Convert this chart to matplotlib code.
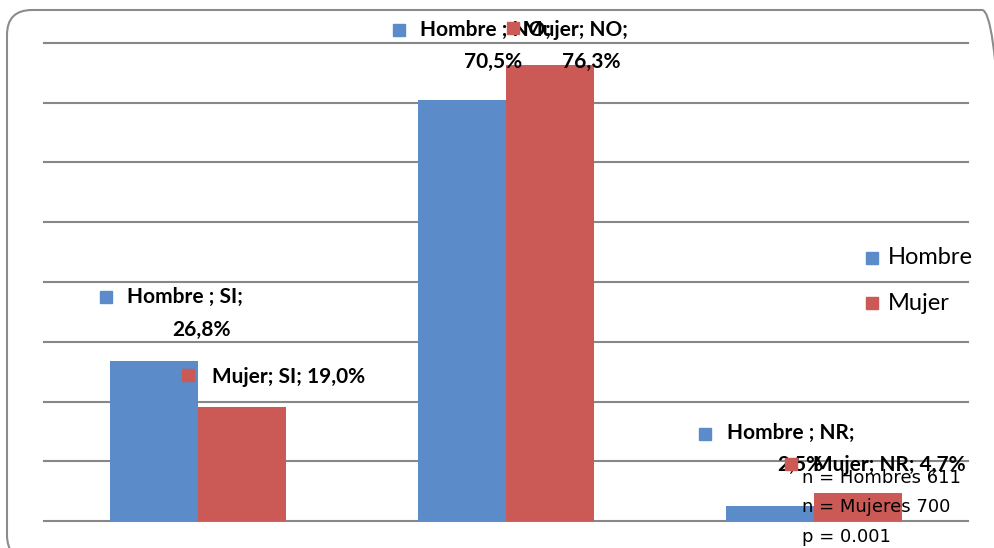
import matplotlib.pyplot as plt
import matplotlib.transforms as mtransforms
from matplotlib.patches import FancyBboxPatch, Rectangle

# datos
categorias = ['SI', 'NO', 'NR']
hombre = [26.8, 70.5, 2.5]
mujer = [19.0, 76.3, 4.7]
valores_h = ['26,8%', '70,5%', '2,5%']
valores_m = ['19,0%', '76,3%', '4,7%']
notas = ['n = Hombres 611', 'n = Mujeres 700', 'p = 0.001']

azul = '#5B8BC8'
rojo = '#CB5A56'
gris = '#878787'

fig = plt.figure(figsize=(9.94, 5.48), dpi=100)
ax = fig.add_axes([44/994, 27/548, 924/994, 478/548])

x = list(range(len(categorias)))
w = 0.286
ax.bar([i - w/2 for i in x], hombre, w, color=azul, zorder=2)
ax.bar([i + w/2 for i in x], mujer, w, color=rojo, zorder=2)
ax.set_xlim(-0.5, 2.5)
ax.set_ylim(0, 80)
for v in range(0, 90, 10):
    ax.axhline(v, color=gris, lw=1.5, zorder=1, clip_on=False)
for s in ax.spines.values():
    s.set_visible(False)
ax.set_xticks([])
ax.set_yticks([])


def etiqueta(xc, val, color, sq, t1, txt1, t2=None, txt2=None):
    # cuadrito de color + texto, desplazados en pixeles desde la punta de la barra
    tr = mtransforms.offset_copy(ax.transData, fig, x=sq[0], y=sq[1], units='dots')
    ax.plot([xc], [val], marker='s', ms=8.5, color=color, transform=tr,
            clip_on=False, zorder=5)
    ax.annotate(txt1, (xc, val), xytext=t1, textcoords='offset pixels',
                ha='left', va='center', fontsize=15, fontweight='bold',
                family='Lato', zorder=5, annotation_clip=False)
    if txt2:
        ax.annotate(txt2, (xc, val), xytext=t2, textcoords='offset pixels',
                    ha='center', va='center', fontsize=15, fontweight='bold',
                    family='Lato', zorder=5, annotation_clip=False)


xh = [i - w/2 for i in x]
xm = [i + w/2 for i in x]

etiqueta(xh[0], hombre[0], azul, (-48, 64), (-27, 64), 'Hombre ; ' + categorias[0] + ';', (48, 31), valores_h[0])
etiqueta(xh[1], hombre[1], azul, (-63, 70), (-42, 70), 'Hombre ; ' + categorias[1] + ';', (31, 38), valores_h[1])
etiqueta(xh[2], hombre[2], azul, (-65, 72), (-43, 73), 'Hombre ; ' + categorias[2] + ';', (30, 41), valores_h[2])
etiqueta(xm[0], mujer[0], rojo, (-54, 32), (-30, 30), 'Mujer; ' + categorias[0] + '; ' + valores_m[0])
etiqueta(xm[1], mujer[1], rojo, (-37, 37), (-27, 35), 'Mujer; ' + categorias[1] + ';', (41, 3), valores_m[1])
etiqueta(xm[2], mujer[2], rojo, (-67, 29), (-45, 28), 'Mujer; ' + categorias[2] + '; ' + valores_m[2])

# notas
for k, t in enumerate(notas):
    fig.text(802/994, 1 - (478 + 29.5*k)/548, t, ha='left', va='center',
             fontsize=13, family='DejaVu Sans', zorder=6)

# leyenda
for k, (nom, col) in enumerate([('Hombre', azul), ('Mujer', rojo)]):
    yc = 258 + 45*k
    fig.add_artist(Rectangle((866/994, 1 - (yc + 6)/548), 12/994, 12/548,
                             transform=fig.transFigure, color=col))
    fig.text(888/994, 1 - yc/548, nom, ha='left', va='center',
             fontsize=17, family='Lato')

# marco redondeado
marco = FancyBboxPatch((7, -12), 1000, 550, boxstyle='round,pad=0,rounding_size=25',
                       transform=mtransforms.IdentityTransform(),
                       fill=False, edgecolor='#8C8C8C', lw=1.5)
fig.add_artist(marco)

plt.savefig('out.png', dpi=100)
